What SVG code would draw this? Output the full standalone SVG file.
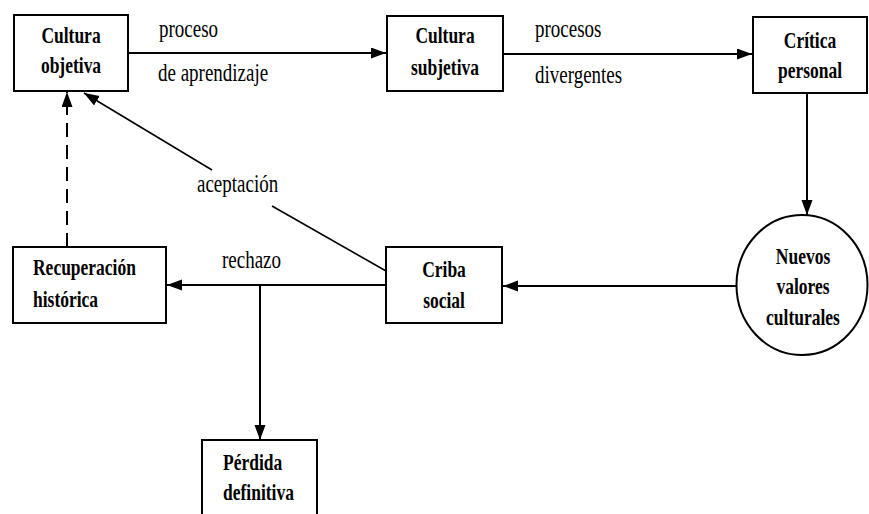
<svg xmlns="http://www.w3.org/2000/svg" width="869" height="514" viewBox="0 0 869 514">
<style>
.box{fill:#fff;stroke:#000;stroke-width:2}
.c{fill:none;stroke:#000;stroke-width:2}
.t{stroke-width:1.6}
.d{stroke-dasharray:14 8}
.b{font-family:"Liberation Serif",serif;font-weight:bold;font-size:17.5px;fill:#000}
.r{font-family:"Liberation Serif",serif;font-size:19px;fill:#000}
</style>
<defs>
<marker id="ah" markerUnits="userSpaceOnUse" markerWidth="16" markerHeight="12" refX="15" refY="5.5" orient="auto">
<path d="M0,0 L15,5.5 L0,11 Z" fill="#000"/>
</marker>
</defs>
<g id="connectors">
<line class="c" x1="128" y1="53" x2="386" y2="53" marker-end="url(#ah)"/>
<line class="c" x1="503" y1="54" x2="752" y2="54" marker-end="url(#ah)"/>
<line class="c" x1="807" y1="93" x2="807" y2="215" marker-end="url(#ah)"/>
<line class="c" x1="737" y1="286" x2="503" y2="286" marker-end="url(#ah)"/>
<line class="c" x1="386" y1="285" x2="167" y2="285" marker-end="url(#ah)"/>
<line class="c" x1="260" y1="285" x2="260" y2="440" marker-end="url(#ah)"/>
<line class="c t" x1="386" y1="271" x2="272" y2="206"/>
<line class="c t" x1="212" y1="170" x2="84" y2="93" marker-end="url(#ah)"/>
<line class="c d" x1="67" y1="247" x2="67" y2="92" marker-end="url(#ah)"/>
<text class="r" transform="translate(159,37) scale(1,1.3)">proceso</text>
<text class="r" transform="translate(158,81) scale(1,1.3)">de aprendizaje</text>
<text class="r" transform="translate(535,37) scale(1,1.3)">procesos</text>
<text class="r" transform="translate(535,83) scale(1,1.3)">divergentes</text>
<text class="r" transform="translate(197,192) scale(1,1.3)">aceptación</text>
<text class="r" transform="translate(222,268) scale(1,1.3)">rechazo</text>
</g>
<g id="cultura-objetiva">
<rect class="box" x="14" y="15" width="114" height="76"/>
<text class="b" text-anchor="middle" transform="translate(71,43) scale(1,1.35)">Cultura</text>
<text class="b" text-anchor="middle" transform="translate(71,73) scale(1,1.35)">objetiva</text>
</g>
<g id="cultura-subjetiva">
<rect class="box" x="387" y="16" width="116" height="75"/>
<text class="b" text-anchor="middle" transform="translate(445,43) scale(1,1.35)">Cultura</text>
<text class="b" text-anchor="middle" transform="translate(445,75) scale(1,1.35)">subjetiva</text>
</g>
<g id="critica-personal">
<rect class="box" x="753" y="17" width="114" height="76"/>
<text class="b" text-anchor="middle" transform="translate(810,48) scale(1,1.35)">Crítica</text>
<text class="b" text-anchor="middle" transform="translate(810,78) scale(1,1.35)">personal</text>
</g>
<g id="nuevos-valores">
<ellipse class="box" cx="802" cy="285" rx="65.5" ry="70"/>
<text class="b" text-anchor="middle" transform="translate(803,264) scale(1,1.35)">Nuevos</text>
<text class="b" text-anchor="middle" transform="translate(803,294) scale(1,1.35)">valores</text>
<text class="b" text-anchor="middle" transform="translate(803,325) scale(1,1.35)">culturales</text>
</g>
<g id="criba-social">
<rect class="box" x="386" y="247" width="116" height="76"/>
<text class="b" text-anchor="middle" transform="translate(444,277) scale(1,1.35)">Criba</text>
<text class="b" text-anchor="middle" transform="translate(444,308) scale(1,1.35)">social</text>
</g>
<g id="recuperacion-historica">
<rect class="box" x="13" y="247" width="153" height="76"/>
<text class="b" transform="translate(33,275) scale(1,1.35)">Recuperación</text>
<text class="b" transform="translate(33,307) scale(1,1.35)">histórica</text>
</g>
<g id="perdida-definitiva">
<rect class="box" x="202" y="440" width="115" height="90"/>
<text class="b" transform="translate(223,470) scale(1,1.35)">Pérdida</text>
<text class="b" transform="translate(223,500) scale(1,1.35)">definitiva</text>
</g>
</svg>
